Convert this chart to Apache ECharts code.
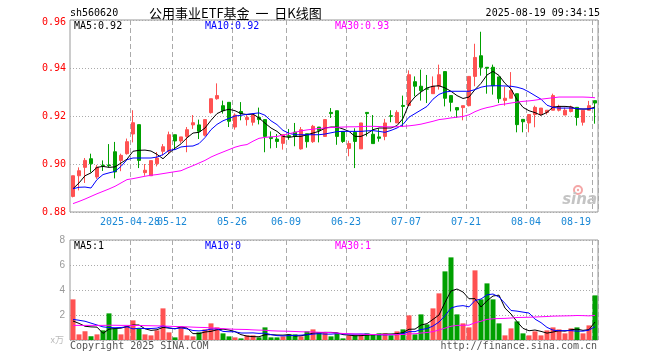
<!DOCTYPE html>
<html><head><meta charset="utf-8">
<script src="https://cdn.jsdelivr.net/npm/echarts@6/dist/echarts.min.js"></script>
<style>html,body{margin:0;padding:0;background:#fff;}#c{width:660px;height:360px;}</style>
</head><body><div id="c"></div>
<script>
const dates = ["2025-04-14","2025-04-15","2025-04-16","2025-04-17","2025-04-18","2025-04-21","2025-04-22","2025-04-23","2025-04-24","2025-04-25","2025-04-28","2025-04-29","2025-04-30","2025-05-06","2025-05-07","2025-05-08","2025-05-09","2025-05-12","2025-05-13","2025-05-14","2025-05-15","2025-05-16","2025-05-19","2025-05-20","2025-05-21","2025-05-22","2025-05-23","2025-05-26","2025-05-27","2025-05-28","2025-05-29","2025-05-30","2025-06-03","2025-06-04","2025-06-05","2025-06-06","2025-06-09","2025-06-10","2025-06-11","2025-06-12","2025-06-13","2025-06-16","2025-06-17","2025-06-18","2025-06-19","2025-06-20","2025-06-23","2025-06-24","2025-06-25","2025-06-26","2025-06-27","2025-06-30","2025-07-01","2025-07-02","2025-07-03","2025-07-04","2025-07-07","2025-07-08","2025-07-09","2025-07-10","2025-07-11","2025-07-14","2025-07-15","2025-07-16","2025-07-17","2025-07-18","2025-07-21","2025-07-22","2025-07-23","2025-07-24","2025-07-25","2025-07-28","2025-07-29","2025-07-30","2025-07-31","2025-08-01","2025-08-04","2025-08-05","2025-08-06","2025-08-07","2025-08-08","2025-08-11","2025-08-12","2025-08-13","2025-08-14","2025-08-15","2025-08-18","2025-08-19"];

const open  = [.8865,.8951,.8986,.9022,.8946,.8995,.8996,.9051,.9015,.9043, .9125,.9164,.8964,.8951,.9001,.9053,.9053,.9122,.9096,.9115, .9163,.9163,.9120,.9214,.9272,.9243,.9257,.9154,.9219,.9185, .9174,.9194,.9185,.9111,.9104,.9086,.9118,.9133,.9063,.9126, .9093,.9154,.9115,.9215,.9222,.9135,.9065,.9132,.9063,.9215, .9124,.9113,.9115,.9201,.9171,.9244,.9244,.9343,.9324,.9313, .9293,.9324,.9385,.9285,.9235,.9235,.9243,.9365,.9451,.9403, .9403,.9363,.9265,.9274,.9293,.9186,.9171,.9206,.9206,.9215, .9224,.9224,.9204,.9219,.9236,.9174,.9224,.9264];
const close = [.8951,.8972,.9015,.9001,.8986,.8993,.8993,.8967,.9036,.9093, .9172,.9015,.8974,.9014,.9025,.9072,.9122,.9096,.9113,.9143, .9172,.9136,.9185,.9272,.9285,.9222,.9178,.9204,.9210,.9194, .9204,.9185,.9115,.9106,.9094,.9122,.9114,.9115,.9143,.9093, .9157,.9140,.9185,.9210,.9115,.9094,.9085,.9094,.9171,.9210, .9085,.9107,.9171,.9199,.9215,.9240,.9372,.9324,.9306,.9312, .9324,.9372,.9274,.9257,.9225,.9243,.9365,.9444,.9403,.9399, .9326,.9272,.9274,.9306,.9164,.9176,.9206,.9236,.9233,.9224, .9285,.9240,.9224,.9238,.9194,.9224,.9243,.9254];
const low   = [.8861,.8890,.8921,.8965,.8938,.8971,.8986,.8940,.8970,.9039, .9090,.8983,.8951,.8951,.8990,.9036,.9042,.9060,.9088,.9049, .9146,.9104,.9115,.9210,.9268,.9210,.9154,.9143,.9182,.9160, .9160,.9165,.9049,.9065,.9067,.9060,.9101,.9074,.9060,.9068, .9088,.9090,.9113,.9192,.9080,.9088,.9032,.8983,.9063,.9115, .9085,.9093,.9099,.9174,.9171,.9154,.9244,.9282,.9264,.9254, .9293,.9310,.9240,.9219,.9192,.9182,.9240,.9324,.9368,.9293, .9289,.9254,.9243,.9274,.9132,.9132,.9132,.9153,.9201,.9206, .9224,.9219,.9204,.9215,.9160,.9160,.9224,.9168];
const high  = [.8951,.8986,.9025,.9043,.8996,.9015,.9083,.9092,.9043,.9106, .9224,.9164,.9000,.9014,.9050,.9083,.9135,.9122,.9113,.9154, .9204,.9185,.9185,.9272,.9336,.9264,.9257,.9211,.9258,.9204, .9210,.9235,.9185,.9136,.9125,.9122,.9146,.9171,.9154,.9126, .9163,.9154,.9185,.9233,.9222,.9135,.9097,.9149,.9171,.9215, .9204,.9149,.9188,.9224,.9224,.9285,.9390,.9365,.9393,.9371, .9365,.9414,.9385,.9285,.9235,.9243,.9365,.9501,.9551,.9403, .9414,.9363,.9321,.9383,.9293,.9186,.9206,.9243,.9233,.9224, .9293,.9247,.9235,.9243,.9236,.9224,.9263,.9264];
const volume = [3.25,.45,.70,.30,.45,.77,2.13,.93,.45,1.12, 1.57,.93,.45,.37,.77,2.53,.61,.21,1.09,.37, .29,.61,.85,1.33,1.01,.53,.29,.21,.13,.37, .37,.21,1.01,.21,.21,.29,.45,.45,.29,.69, .85,.61,.61,.29,.53,.13,.37,.37,.37,.53, .45,.53,.53,.37,.69,.85,1.97,.45,2.05,1.25, 2.53,3.73,5.49,6.61,2.05,1.33,1.01,5.57,3.25,4.53, 3.25,1.33,.37,.93,1.49,.53,.37,.69,.37,.77, 1.01,.85,.53,.93,1.01,.53,1.17,3.57];

const ma5  = [.8897,.8921,.8951,.8963,.8986,.8990,.8986,.8988,.9004,.9020, .9053,.9057,.9058,.9054,.9040,.9022,.9045,.9066,.9084,.9109, .9129,.9132,.9150,.9182,.9210,.9222,.9228,.9222,.9210,.9206, .9208,.9192,.9170,.9150,.9136,.9115,.9111,.9115,.9115,.9122, .9129,.9136,.9150,.9154,.9154,.9146,.9136,.9115,.9115,.9126, .9143,.9150,.9150,.9150,.9160,.9190,.9250,.9280,.9300,.9317, .9324,.9326,.9317,.9303,.9285,.9273,.9279,.9310,.9336,.9371, .9386,.9369,.9336,.9313,.9268,.9236,.9222,.9214,.9203,.9215, .9237,.9240,.9240,.9238,.9229,.9229,.9229,.9238];
const ma10 = [.8897,.8903,.8904,.8900,.8935,.8956,.8963,.8969,.8990,.9018, .9025,.9025,.9025,.9025,.9029,.9039,.9057,.9060,.9071,.9074, .9075,.9085,.9110,.9143,.9165,.9180,.9190,.9200,.9203,.9207, .9210,.9213,.9203,.9180,.9164,.9140,.9128,.9122,.9122,.9122, .9122,.9122,.9125,.9130,.9135,.9136,.9136,.9136,.9136,.9138, .9139,.9136,.9132,.9140,.9150,.9165,.9195,.9210,.9225,.9240, .9270,.9290,.9300,.9303,.9303,.9303,.9303,.9310,.9320,.9325, .9326,.9326,.9325,.9324,.9320,.9313,.9300,.9285,.9270,.9245, .9236,.9233,.9233,.9233,.9231,.9229,.9230,.9233];
const ma30 = [.8835,.8844,.8854,.8865,.8876,.8886,.8896,.8907,.8921,.8935, .8939,.8944,.8949,.8953,.8956,.8960,.8964,.8968,.8972,.8983, .8993,.9004,.9015,.9029,.9040,.9050,.9060,.9070,.9077,.9081, .9095,.9107,.9111,.9113,.9115,.9120,.9126,.9132,.9138,.9142, .9145,.9148,.9150,.9152,.9153,.9154,.9155,.9155,.9156,.9157, .9157,.9156,.9155,.9155,.9155,.9157,.9159,.9162,.9166,.9172, .9178,.9185,.9188,.9192,.9195,.9198,.9205,.9218,.9228,.9235, .9240,.9247,.9250,.9254,.9258,.9261,.9263,.9266,.9270,.9273, .9276,.9279,.9279,.9279,.9279,.9279,.9278,.9276];

const vma5  = [1.52,1.33,1.10,1.05,1.03,.53,.87,.92,.95,1.08, 1.20,1.20,.90,.77,.82,1.01,.95,.90,1.04,.96, .51,.51,.64,.69,.82,.87,.80,.67,.43,.31, .27,.26,.42,.43,.40,.39,.43,.32,.34,.43, .55,.58,.61,.61,.58,.43,.39,.34,.35,.39, .42,.45,.48,.48,.51,.59,.86,.87,1.20,1.31, 1.65,2.00,3.01,3.92,4.08,3.84,3.30,3.31,2.64,3.14, 3.52,3.59,2.55,2.08,1.47,.93,.74,.80,.69,.55, .64,.74,.71,.82,.87,.77,.83,1.44];
const vma10 = [1.65,1.58,1.50,1.35,1.20,1.05,1.00,.98,1.00,1.06, .89,.94,.91,.92,.95,1.13,.97,.90,.97,.89, .76,.73,.77,.87,.89,.69,.66,.66,.56,.56, .57,.53,.55,.43,.35,.33,.35,.37,.39,.42, .47,.51,.47,.47,.51,.49,.48,.47,.48,.47, .43,.42,.41,.42,.43,.51,.67,.67,.84,.91, 1.12,1.44,1.94,2.56,2.70,2.75,2.65,3.16,3.28,3.61, 3.68,3.44,2.93,2.36,2.31,2.23,2.16,1.67,1.39,1.01, .79,.74,.75,.75,.71,.71,.79,1.07];
const vma30 = [1.17,1.17,1.17,1.17,1.17,1.17,1.18,1.18,1.17,1.17, 1.16,1.16,1.15,1.14,1.13,1.12,1.10,1.08,1.07,1.05, 1.03,1.01,1.00,.97,.94,.91,.88,.86,.85,.84, .81,.79,.78,.74,.72,.71,.70,.68,.66,.65, .64,.62,.61,.59,.56,.52,.50,.48,.46,.45, .44,.43,.43,.43,.44,.44,.49,.50,.56,.60, .67,.80,.95,1.10,1.17,1.18,1.19,1.38,1.50,1.65, 1.70,1.72,1.73,1.76,1.80,1.81,1.82,1.84,1.86,1.88, 1.91,1.92,1.93,1.94,1.96,1.95,1.93,1.97];

const tickDates = ["2025-04-28","2025-05-12","2025-05-26","2025-06-09","2025-06-23","2025-07-07","2025-07-21","2025-08-04","2025-08-19"];
const tickLabels = ["2025-04-28","05-12","05-26","06-09","06-23","07-07","07-21","08-04","08-19"];
const priceTicks = [0.88, 0.90, 0.92, 0.94, 0.96];
const volTicks = [0, 2, 4, 6, 8];

const UP = '#ff5252', DOWN = '#00a000', GRIDC = '#aaaaaa', BORDER = '#999999', LBL = '#1a88d6';
const MONO = '"DejaVu Sans Mono", monospace';

const chart = echarts.init(document.getElementById('c'), null, {renderer: 'canvas'});
const isTick = (idx, val) => tickDates.indexOf(val) >= 0;
// labels split across two axes so that the overlapping first pair both stay visible
const isOddTick = (idx, val) => { const k = tickDates.indexOf(val); return k >= 0 && k % 2 === 0; };
const isEvenTick = (idx, val) => { const k = tickDates.indexOf(val); return k >= 0 && k % 2 === 1; };
const fmtTick = (val) => { const k = tickDates.indexOf(val); if (k < 0) return ''; return (k === tickDates.length - 1 ? '{e|' : '{n|') + tickLabels[k] + '}'; };
const richX = {
  n: {fontFamily: MONO, fontSize: 10, color: LBL, padding: [0, 6, 0, 0]},
  e: {fontFamily: MONO, fontSize: 10, color: LBL, padding: [0, 38, 0, 0]}
};

const option = {
  animation: false,
  backgroundColor: '#fff',
  grid: [
    {left: 70, top: 20, width: 528, height: 192, show: true, borderColor: BORDER, borderWidth: 1, backgroundColor: 'transparent'},
    {left: 70, top: 240, width: 528, height: 100, show: true, borderColor: BORDER, borderWidth: 1, backgroundColor: 'transparent'}
  ],
  xAxis: [
    {type: 'category', gridIndex: 0, data: dates, boundaryGap: true, position: 'bottom',
     axisLine: {show: false}, axisTick: {show: false},
     axisLabel: {show: true, interval: isOddTick, margin: 5, hideOverlap: false, formatter: fmtTick, rich: richX},
     splitLine: {show: true, interval: isTick, lineStyle: {color: GRIDC, type: [5, 3], width: 1}}},
    {type: 'category', gridIndex: 1, data: dates, boundaryGap: true,
     axisLine: {show: false}, axisTick: {show: false}, axisLabel: {show: false},
     splitLine: {show: true, interval: isTick, lineStyle: {color: GRIDC, type: [5, 3], width: 1}}},
    {type: 'category', gridIndex: 0, data: dates, boundaryGap: true, position: 'bottom', offset: 0,
     axisLine: {show: false}, axisTick: {show: false}, splitLine: {show: false},
     axisLabel: {show: true, interval: isEvenTick, margin: 5, hideOverlap: false, formatter: fmtTick, rich: richX}}
  ],
  yAxis: [
    {type: 'value', gridIndex: 0, min: priceTicks[0], max: priceTicks[priceTicks.length - 1], interval: 0.02,
     axisLine: {show: false}, axisTick: {show: false},
     axisLabel: {margin: 4, formatter: (v) => v >= 0.955 ? '{t|' + v.toFixed(2) + '}' : '{n|' + v.toFixed(2) + '}',
       rich: {n: {fontFamily: MONO, fontSize: 10, color: '#ff0000'}, t: {fontFamily: MONO, fontSize: 10, color: '#ff0000', padding: [4, 0, 0, 0]}}},
     splitLine: {show: true, lineStyle: {color: GRIDC, type: [1, 2], width: 1}}},
    {type: 'value', gridIndex: 1, min: volTicks[0], max: volTicks[volTicks.length - 1], interval: 2,
     axisLine: {show: false}, axisTick: {show: false},
     axisLabel: {margin: 5, color: '#999', fontFamily: '"Liberation Sans", Arial, sans-serif', fontSize: 10, formatter: (v) => v === 0 ? '' : String(v)},
     splitLine: {show: true, lineStyle: {color: GRIDC, type: [1, 2], width: 1}}}
  ],
  series: [
    {type: 'candlestick', xAxisIndex: 0, yAxisIndex: 0, barWidth: 4,
     data: dates.map((d, i) => [open[i], close[i], low[i], high[i]]),
     itemStyle: {color: UP, color0: DOWN, borderColor: UP, borderColor0: DOWN, borderWidth: 1}},
    {type: 'line', xAxisIndex: 0, yAxisIndex: 0, data: ma5, symbol: 'none', lineStyle: {color: '#000', width: 1}, z: 3},
    {type: 'line', xAxisIndex: 0, yAxisIndex: 0, data: ma10, symbol: 'none', lineStyle: {color: '#0000ff', width: 1}, z: 3},
    {type: 'line', xAxisIndex: 0, yAxisIndex: 0, data: ma30, symbol: 'none', lineStyle: {color: '#ff00ff', width: 1}, z: 3},
    {type: 'bar', xAxisIndex: 1, yAxisIndex: 1, barWidth: 5,
     data: volume.map((v, i) => ({value: v, itemStyle: {color: close[i] >= open[i] ? UP : DOWN}}))},
    {type: 'line', xAxisIndex: 1, yAxisIndex: 1, data: vma5, symbol: 'none', lineStyle: {color: '#000', width: 1}, z: 3},
    {type: 'line', xAxisIndex: 1, yAxisIndex: 1, data: vma10, symbol: 'none', lineStyle: {color: '#0000ff', width: 1}, z: 3},
    {type: 'line', xAxisIndex: 1, yAxisIndex: 1, data: vma30, symbol: 'none', lineStyle: {color: '#ff00ff', width: 1}, z: 3}
  ],
  graphic: [
    {type: 'text', z: 10, style: {text: 'sh560620', x: 70, y: 13, font: '10px ' + MONO, fill: '#000', textVerticalAlign: 'middle'}},
    {type: 'text', z: 10, style: {text: '公用事业ETF基金  一  日K线图', x: 149, y: 13, font: '13px "Noto Sans CJK SC"', fill: '#000', textVerticalAlign: 'middle'}},
    {type: 'text', z: 10, style: {text: '2025-08-19 09:34:15', x: 600, y: 13, font: '10px ' + MONO, fill: '#000', textAlign: 'right', textVerticalAlign: 'middle'}},
    {type: 'text', z: 10, style: {text: 'MA5:0.92', x: 74, y: 26.5, font: '10px ' + MONO, fill: '#000', textVerticalAlign: 'middle'}},
    {type: 'text', z: 10, style: {text: 'MA10:0.92', x: 205, y: 26.5, font: '10px ' + MONO, fill: '#0000ff', textVerticalAlign: 'middle'}},
    {type: 'text', z: 10, style: {text: 'MA30:0.93', x: 335, y: 26.5, font: '10px ' + MONO, fill: '#ff00ff', textVerticalAlign: 'middle'}},
    {type: 'text', z: 10, style: {text: 'MA5:1', x: 74, y: 246.5, font: '10px ' + MONO, fill: '#000', textVerticalAlign: 'middle'}},
    {type: 'text', z: 10, style: {text: 'MA10:0', x: 205, y: 246.5, font: '10px ' + MONO, fill: '#0000ff', textVerticalAlign: 'middle'}},
    {type: 'text', z: 10, style: {text: 'MA30:1', x: 335, y: 246.5, font: '10px ' + MONO, fill: '#ff00ff', textVerticalAlign: 'middle'}},
    {type: 'text', z: 10, style: {text: 'x万', x: 64, y: 340, font: '9px "Noto Sans CJK SC"', fill: '#bbbbbb', textAlign: 'right', textVerticalAlign: 'middle'}},
    {type: 'text', z: 10, style: {text: 'Copyright 2025 SINA.COM', x: 70, y: 346, font: '10px ' + MONO, fill: '#555', textVerticalAlign: 'middle'}},
    {type: 'text', z: 10, style: {text: 'http://finance.sina.com.cn', x: 597, y: 346, font: '10px ' + MONO, fill: '#555', textAlign: 'right', textVerticalAlign: 'middle'}},
    {type: 'circle', z: 10, shape: {cx: 578, cy: 190, r: 4}, style: {fill: 'none', stroke: '#f4a6a6', lineWidth: 2}},
    {type: 'circle', z: 10, shape: {cx: 578, cy: 190, r: 1.2}, style: {fill: '#f4a6a6'}},
    {type: 'text', z: 10, style: {text: 'sina', x: 597, y: 200, font: 'italic bold 15px "DejaVu Sans"', fill: '#c4c4c4', textAlign: 'right', textVerticalAlign: 'middle'}}
  ]
};
chart.setOption(option);
</script>
</body></html>
